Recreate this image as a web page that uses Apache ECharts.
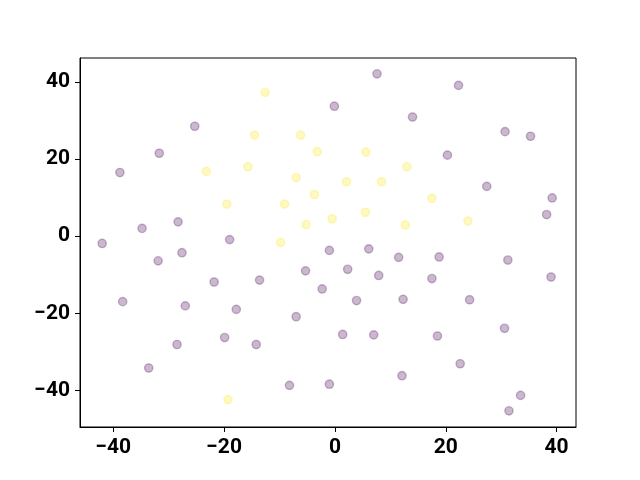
<!DOCTYPE html>
<html>
<head>
<meta charset="utf-8">
<script src="https://cdn.jsdelivr.net/npm/echarts@6/dist/echarts.min.js"></script>
<style>html,body{margin:0;padding:0;background:#fff}#c{width:640px;height:480px}</style>
</head>
<body>
<div id="c"></div>
<script>
// Purple points (class 0)
const purpleX = [7.6, 22.3, -0.1, 14.0, -25.3, 30.7, 35.3, -31.7, 20.3, -38.8, 27.4, 39.2, 38.2, -28.3, -34.8, -42.0, -19.0, -27.6, -31.9, -1.0, 6.1, 11.5, 18.8, 31.2, -5.3, 2.3, 7.9, 17.5, 39.0, -21.8, -13.6, -2.3, -38.3, -27.0, -17.8, -7.0, 3.9, 12.3, 24.3, 30.6, 1.4, 7.0, 18.5, -19.9, -28.5, -14.2, -33.6, 22.6, 12.1, -8.2, -1.0, 33.5, 31.4];
const purpleY = [42.1, 39.1, 33.7, 30.9, 28.5, 27.1, 25.9, 21.5, 21.0, 16.5, 12.9, 9.9, 5.6, 3.7, 2.0, -1.9, -0.9, -4.3, -6.4, -3.7, -3.3, -5.5, -5.4, -6.2, -9.0, -8.6, -10.2, -11.0, -10.6, -11.9, -11.4, -13.7, -17.0, -18.1, -19.0, -20.9, -16.7, -16.4, -16.5, -23.9, -25.5, -25.6, -25.9, -26.3, -28.1, -28.1, -34.2, -33.1, -36.2, -38.7, -38.4, -41.3, -45.3];
// Yellow points (class 1)
const yellowX = [-12.6, -14.5, -6.2, -3.2, -23.2, -15.7, -7.0, -3.7, -19.5, -9.1, -5.2, -9.8, 5.6, 13.0, 2.1, 8.4, 17.5, 5.5, 12.7, 24.0, -0.5, -19.3];
const yellowY = [37.3, 26.2, 26.2, 21.9, 16.8, 18.0, 15.2, 10.8, 8.3, 8.3, 3.0, -1.6, 21.8, 18.0, 14.1, 14.1, 9.8, 6.2, 2.9, 3.9, 4.5, -42.4];
const xTicks = [-40, -20, 0, 20, 40];
const yTicks = [-40, -20, 0, 20, 40];

const zip = (xs, ys) => xs.map((x, i) => [x, ys[i]]);
const chart = echarts.init(document.getElementById('c'), null, {renderer: 'canvas'});
const labelStyle = {color: '#000', fontFamily: 'Roboto', fontWeight: 'bold', fontSize: 21};
const fmt = v => (v < 0 ? '\u2212' + Math.abs(v) : String(v));
chart.setOption({
  animation: false,
  backgroundColor: '#fff',
  grid: {left: 80, right: 64, top: 58, bottom: 53, show: true, borderColor: '#000', borderWidth: 1, backgroundColor: 'transparent'},
  xAxis: {
    type: 'value', min: -46.0, max: 43.5,
    splitLine: {show: false},
    axisLine: {show: true, onZero: false, lineStyle: {color: '#000', width: 1}},
    axisTick: {show: true, length: 5, inside: false, customValues: xTicks, lineStyle: {color: '#000'}},
    axisLabel: Object.assign({margin: 10, customValues: xTicks, formatter: fmt, showMinLabel: true, showMaxLabel: true}, labelStyle)
  },
  yAxis: {
    type: 'value', min: -49.5, max: 46.2,
    splitLine: {show: false},
    axisLine: {show: true, onZero: false, lineStyle: {color: '#000', width: 1}},
    axisTick: {show: true, length: 5, inside: false, customValues: yTicks, lineStyle: {color: '#000'}},
    axisLabel: Object.assign({margin: 10, customValues: yTicks, formatter: fmt, showMinLabel: true, showMaxLabel: true}, labelStyle)
  },
  series: [
    {type: 'scatter', data: zip(purpleX, purpleY), symbolSize: 8.3,
     itemStyle: {color: 'rgba(68,1,84,0.35)', borderColor: 'rgba(68,1,84,0.35)', borderWidth: 1.4}},
    {type: 'scatter', data: zip(yellowX, yellowY), symbolSize: 8.3,
     itemStyle: {color: 'rgba(253,231,37,0.35)', borderColor: 'rgba(253,231,37,0.35)', borderWidth: 1.4}}
  ]
});
</script>
</body>
</html>
